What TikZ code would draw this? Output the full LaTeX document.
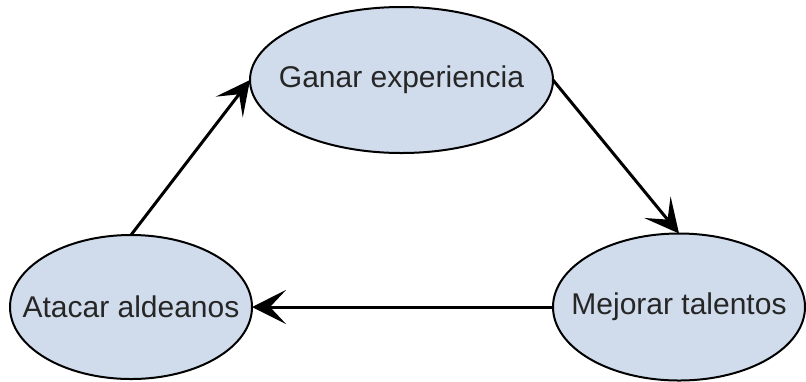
\documentclass[tikz,border=0pt]{standalone}
\usepackage{fontspec}
\setmainfont{Liberation Sans}
\usetikzlibrary{shapes.geometric,arrows.meta}
\definecolor{stepfill}{RGB}{208,220,236}
\tikzset{
  state/.style = {ellipse, draw=black, line width=1pt, fill=stepfill,
                  inner sep=0pt, outer sep=0pt,
                  label={[text=black!85, font=\fontsize{15}{18}\selectfont]center:#1}},
  flow/.style = {line width=1.5pt,
                 -{Stealth[length=17pt, width=17pt, inset=8pt]}}
}

\begin{document}
\begin{tikzpicture}[x=0.5pt, y=-0.5pt]
	\useasboundingbox (0,0) rectangle (806,381);
	
	% Cycle states
	\node[state={Ganar experiencia}, minimum width=151.5pt, minimum height=73pt] (ganar) at (401.5,80) {};
	\node[state={Atacar aldeanos}, minimum width=121pt, minimum height=72pt] (atacar) at (131,307) {};
	\node[state={Mejorar talentos}, minimum width=126pt, minimum height=73.5pt] (mejorar) at (679,307) {};
	
	% Arrows
	\draw[flow] (atacar.north) -- (ganar.west);
	\draw[flow] (ganar.east) -- (mejorar.north);
	\draw[flow] (mejorar.west) -- (atacar.east);
	
\end{tikzpicture}
\end{document}
